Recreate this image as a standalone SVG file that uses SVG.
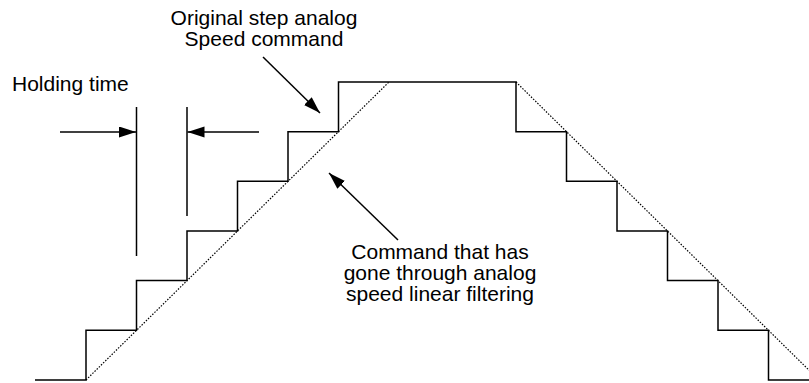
<svg xmlns="http://www.w3.org/2000/svg" width="809" height="383" viewBox="0 0 809 383">
  <style>
    .lbl { font-family: "Liberation Sans", Arial, sans-serif; font-size: 21px; fill: #000; }
    .mid { text-anchor: middle; }
    .step { fill: none; stroke: #000; stroke-width: 1.5; stroke-linejoin: miter; }
    .filt { fill: none; stroke: #000; stroke-width: 1.2; stroke-dasharray: 1.5 1.5; }
    .conn { fill: none; stroke: #000; stroke-width: 1.5; }
    .arr { marker-end: url(#ah); }
  </style>
  <defs>
    <marker id="ah" markerUnits="userSpaceOnUse" markerWidth="18" markerHeight="12" refX="17" refY="5.5" orient="auto">
      <path d="M0,0 L17,5.5 L0,11 Z" fill="#000"/>
    </marker>
  </defs>
  <rect width="809" height="383" fill="#fff"/>

  <g id="staircase">
    <path class="step" d="M35,380 H86 V330.3 H136.5 V280.6 H187 V231 H237.5 V181.3 H288 V131.7 H338.5 V82 H516 V131.7 H566.5 V181.3 H617 V231 H667.5 V280.6 H718 V330.3 H768.5 V380 H809"/>
  </g>
  <g id="filtered">
    <path class="filt" d="M86,380 L389,82"/>
    <path class="filt" d="M516,82 L819,380"/>
  </g>

  <g id="holding-time">
    <line class="conn" x1="136.5" y1="107" x2="136.5" y2="256"/>
    <line class="conn" x1="187" y1="107" x2="187" y2="216"/>
    <text class="lbl" x="12" y="91">Holding time</text>
  </g>

  <g id="label-original">
    <text class="lbl mid" x="264" y="25">Original step analog</text>
    <text class="lbl mid" x="264" y="46">Speed command</text>
  </g>

  <g id="label-filtered">
    <text class="lbl mid" x="440" y="259">Command that has</text>
    <text class="lbl mid" x="440" y="280">gone through analog</text>
    <text class="lbl mid" x="440" y="301">speed linear filtering</text>
  </g>

  <g id="connectors">
    <line class="conn arr" x1="60" y1="132" x2="136" y2="132"/>
    <line class="conn arr" x1="259" y1="132" x2="187.5" y2="132"/>
    <line class="conn arr" x1="263" y1="57" x2="320" y2="113"/>
    <line class="conn arr" x1="398" y1="240" x2="329" y2="173"/>
  </g>
</svg>
